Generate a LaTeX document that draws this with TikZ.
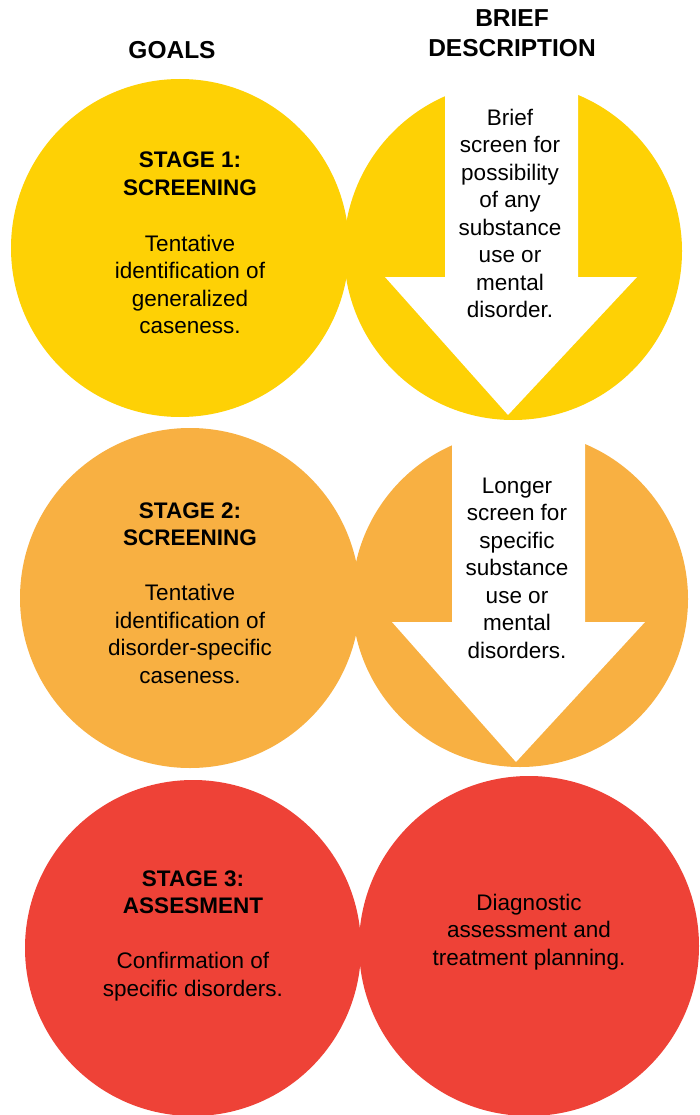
\documentclass[tikz,border=0pt]{standalone}
\usepackage{fontspec}
\setmainfont{Liberation Sans}
\definecolor{stageyellow}{HTML}{FED105}
\definecolor{stageorange}{HTML}{F8B042}
\definecolor{stagered}{HTML}{EE4237}

\begin{document}
\begin{tikzpicture}[x=1pt,y=-1pt,
  disc/.style={circle, minimum size=#1, inner sep=0pt, draw=none},
  % multi-line nodes: the base anchor sits on the baseline of the last line
  body/.style={align=center, anchor=base, inner sep=0pt, text=black,
    font=\fontsize{22.5}{27.5}\selectfont},
  stagehead/.style={body, font=\fontsize{22.5}{27.5}\selectfont\bfseries},
  colhead/.style={align=center, anchor=base, inner sep=0pt,
    font=\fontsize{24.5}{29.5}\selectfont\bfseries},
  downarrow/.style={fill=white, draw=none},
]
\useasboundingbox (0,0) rectangle (700,1115);
\fill[white] (0,0) rectangle (700,1115);

% stage 1
\node[disc=338pt, fill=stageyellow] (g1) at (180,248) {};
\node[disc=338pt, fill=stageyellow] (d1) at (513,251) {};
\fill[downarrow] (445,78) -- (578,78) -- (578,277) -- (637,277)
  -- (508,415) -- (385,277) -- (445,277) -- cycle;
\node[stagehead] (s1) at (190,195.5) {STAGE 1:\\SCREENING};
\node[body] (t1) at (190,333.5) {Tentative\\identification of\\generalized\\caseness.};
\node[body] (b1) at (510,317.5) {Brief\\screen for\\possibility\\of any\\substance\\use or\\mental\\disorder.};

% stage 2
\node[disc=340pt, fill=stageorange] (g2) at (190,598) {};
\node[disc=336pt, fill=stageorange] (d2) at (520,599) {};
\fill[downarrow] (452,426) -- (585,426) -- (585,622) -- (645,622)
  -- (516,762) -- (392,622) -- (452,622) -- cycle;
\node[stagehead] (s2) at (190,545.5) {STAGE 2:\\SCREENING};
\node[body] (t2) at (190,683) {Tentative\\identification of\\disorder-specific\\caseness.};
\node[body] (b2) at (517,658) {Longer\\screen for\\specific\\substance\\use or\\mental\\disorders.};

% stage 3
\node[disc=336pt, fill=stagered] (g3) at (193,948) {};
\node[disc=340pt, fill=stagered] (d3) at (529,946) {};
\node[stagehead] (s3) at (193,913.5) {STAGE 3:\\ASSESMENT};
\node[body] (t3) at (193,996) {Confirmation of\\specific disorders.};
\node[body] (b3) at (529,965) {Diagnostic\\assessment and\\treatment planning.};

% column headings
\node[colhead] (hgoals) at (172,58.5) {GOALS};
\node[colhead] (hdesc) at (512,56.5) {BRIEF\\DESCRIPTION};
\end{tikzpicture}
\end{document}
